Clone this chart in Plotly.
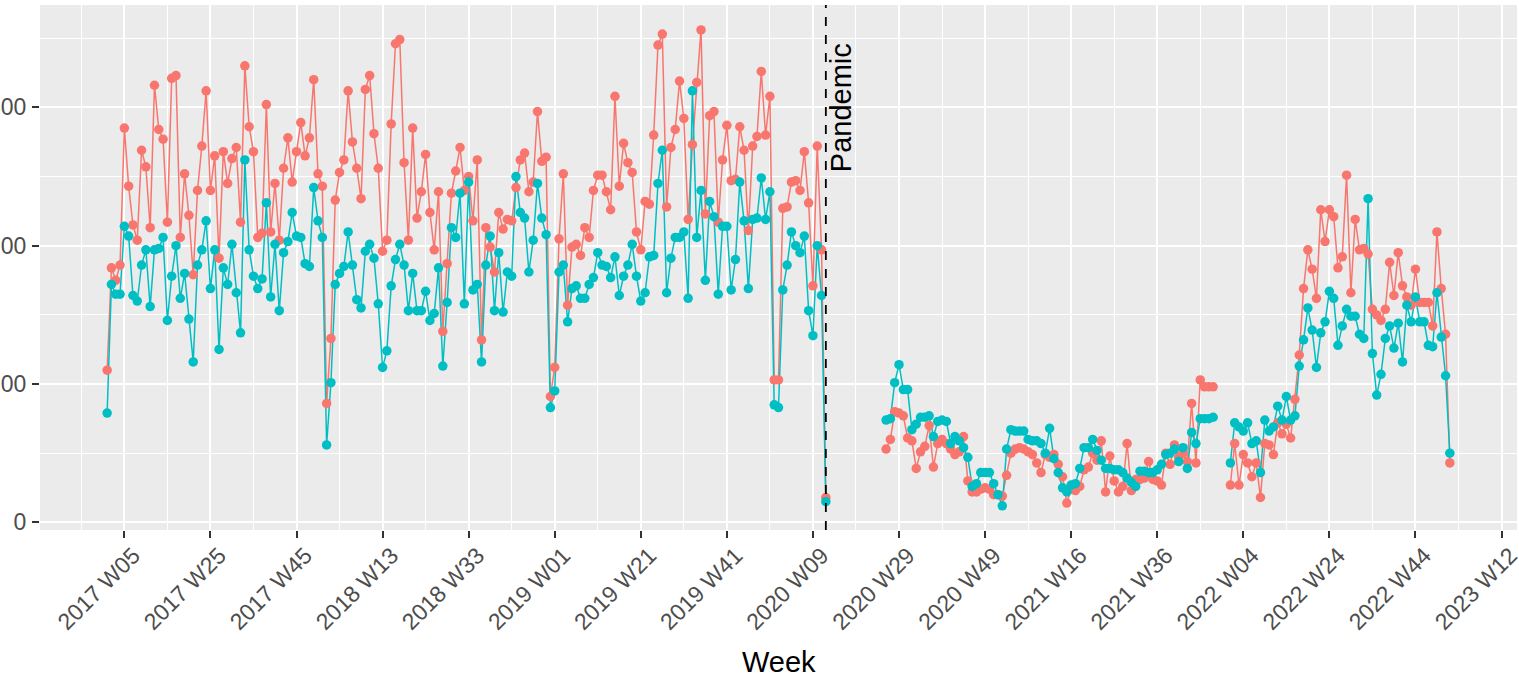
import datetime
import plotly.graph_objects as go

# ---- categories: ISO week labels -------------------------------------------
all_weeks = []
for yr in range(2017, 2024):
    n_w = datetime.date(yr, 12, 28).isocalendar()[1]
    for w in range(1, n_w + 1):
        all_weeks.append(f"{yr} W{w:02d}")
weeks = all_weeks[: all_weeks.index("2022 W52") + 1]

tick_labels = ["2017 W05", "2017 W25", "2017 W45", "2018 W13", "2018 W33",
               "2019 W01", "2019 W21", "2019 W41", "2020 W09", "2020 W29",
               "2020 W49", "2021 W16", "2021 W36", "2022 W04", "2022 W24",
               "2022 W44", "2023 W12"]
pandemic_week = "2020 W12"

N = None
# ---- series values (red series) ---------------------------------------------
red = [
    110, 184, 175, 186, 285, 243, 215, 204, 269, 257, 213, 316, 284, 277, 217, 321, 323, 206, 252, 222,
    179, 240, 272, 312, 240, 265, 191, 268, 245, 263, 271, 217, 330, 286, 268, 206, 209, 302, 210, 245,
    204, 256, 278, 246, 268, 289, 265, 278, 320, 252, 243, 86, 133, 233, 253, 262, 312, 275, 256, 234,
    313, 323, 281, 256, 196, 204, 288, 346, 349, 260, 204, 285, 220, 239, 266, 224, 197, 239, 138, 187,
    238, 254, 271, 240, 250, 218, 262, 132, 213, 199, 181, 224, 212, 219, 218, 242, 262, 267, 239, 246,
    297, 261, 264, 91, 112, 205, 252, 157, 199, 201, 193, 213, 206, 240, 251, 251, 239, 226, 308, 243,
    274, 260, 253, 210, 197, 232, 230, 280, 345, 353, 228, 271, 284, 319, 292, 219, 273, 318, 356, 223,
    294, 297, 217, 262, 287, 247, 248, 286, 269, 211, 272, 279, 326, 280, 308, 103, 103, 227, 228, 246,
    247, 240, 268, 231, 171, 272, 197, 18,
    N, N, N, N, N, N, N, N, N, N, N, N, N,
    53, 60, 80, 79, 77, 61, 59, 39, 51, 55, 70, 40, 57, 60, 57, 53, 49, 51, 62, 30,
    22, 22, 24, 25, 24, 20, 20, 19, 34, 50, 53, 54, 53, 51, 49, 43, 36, 49, 47, 49,
    42, 33, 14, 24, 23, 26, 38, 40, 50, 45, 59, 22, 48, 30, 22, 26, 57, 23, 31, 31,
    32, 44, 31, 30, 27, 50,
    42, 56, 47, 50, 44, 86, 43, 103, 98, 98, 98,
    N, N, N,
    27, 57, 27, 49, 43, 33, 43, 18, 57, 56, 49, 72, 64, 71, 61, 89, 121, 169, 197, 183,
    162, 226, 203, 226, 221, 184, 192, 251, 166, 219, 197, 198, 194, 154, 150, 146, 154, 188, 164, 195,
    171, 163, 157, 183, 159, 159, 159, 142, 210, 169, 136, 43,
]

# ---- series values (teal series) --------------------------------------------
teal = [
    79, 172, 165, 165, 214, 207, 164, 160, 186, 197, 156, 197, 198, 206, 146, 178, 200, 162, 180, 147,
    116, 186, 197, 218, 169, 197, 125, 184, 172, 201, 166, 137, 262, 197, 178, 169, 176, 231, 163, 201,
    153, 195, 203, 224, 207, 206, 187, 185, 242, 218, 206, 56, 101, 172, 180, 185, 210, 186, 161, 155,
    196, 201, 191, 158, 112, 124, 171, 190, 201, 186, 153, 180, 153, 153, 167, 146, 151, 184, 113, 159,
    213, 206, 238, 158, 246, 168, 172, 116, 186, 207, 153, 195, 152, 181, 178, 250, 224, 220, 181, 204,
    245, 220, 208, 83, 95, 181, 186, 145, 169, 171, 162, 162, 172, 177, 195, 186, 185, 177, 192, 164,
    178, 186, 201, 178, 160, 166, 192, 193, 245, 269, 166, 191, 206, 206, 210, 162, 312, 206, 240, 175,
    232, 221, 165, 214, 214, 168, 190, 246, 218, 169, 219, 220, 249, 219, 239, 85, 83, 168, 186, 210,
    200, 195, 207, 153, 135, 200, 164, 15,
    N, N, N, N, N, N, N, N, N, N, N, N, N,
    74, 75, 101, 114, 96, 96, 67, 71, 76, 76, 77, 62, 73, 74, 73, 57, 62, 59, 54, 47,
    26, 28, 36, 36, 36, 28, 20, 12, 53, 67, 66, 66, 66, 60, 59, 59, 57, 50, 68, 46,
    36, 25, 22, 27, 28, 39, 54, 54, 60, 52, 45, 39, 39, 38, 38, 36, 32, 29, 26, 37,
    37, 36, 36, 38, 42, 49,
    50, 53, 44, 54, 39, 65, 57, 75, 75, 75, 76,
    N, N, N,
    43, 72, 69, 66, 72, 57, 59, 36, 74, 66, 69, 84, 74, 91, 74, 77, 113, 132, 155, 139,
    112, 137, 145, 167, 162, 128, 142, 154, 149, 149, 136, 133, 234, 122, 92, 107, 133, 142, 126, 144,
    116, 157, 145, 163, 145, 145, 128, 127, 166, 134, 106, 50,
]

y_ticks = [0, 100, 200, 300]

RED = "#F8766D"
TEAL = "#00BFC4"
FONT = "Liberation Sans, Arial, sans-serif"

x = [all_weeks.index(w) for w in weeks]
tick_pos = [all_weeks.index(t) for t in tick_labels]
minor_pos = [p - 10 for p in tick_pos]
pand_x = all_weeks.index(pandemic_week)

fig = go.Figure()
for vals, col, name in [(red, RED, "red"), (teal, TEAL, "teal")]:
    fig.add_trace(go.Scatter(x=x, y=vals, mode="lines", name=name,
                             line=dict(color=col, width=1.5),
                             hoverinfo="skip", showlegend=False))
for vals, col, name in [(red, RED, "red"), (teal, TEAL, "teal")]:
    fig.add_trace(go.Scatter(x=x, y=vals, mode="markers", name=name,
                             marker=dict(color=col, size=9.5, line=dict(width=0)),
                             showlegend=False))

fig.add_shape(type="line", xref="x", yref="paper", x0=pand_x, x1=pand_x, y0=0, y1=1,
              line=dict(color="black", width=1.8, dash="dash"))
fig.add_annotation(x=pand_x, y=300, xref="x", yref="y", text="Pandemic",
                   textangle=-90, showarrow=False, xanchor="center", yanchor="middle",
                   xshift=16, font=dict(family=FONT, size=29, color="black"))
# x-axis title
fig.add_annotation(x=0.5, y=-0.2514, xref="paper", yref="paper", text="Week",
                   showarrow=False, xanchor="center", yanchor="middle",
                   font=dict(family=FONT, size=29, color="black"))

fig.update_layout(
    width=1519, height=677,
    margin=dict(l=40, r=2, t=5, b=147),
    paper_bgcolor="white", plot_bgcolor="#EBEBEB",
    showlegend=False,
    font=dict(family=FONT),
    xaxis=dict(
        range=[-15.6, 327.6], tickmode="array", tickvals=tick_pos, ticktext=tick_labels,
        tickangle=-45, ticks="outside", ticklen=7, tickwidth=1.6, tickcolor="#333333",
        ticklabelshift=9, ticklabelstandoff=-5, ticklabeloverflow="allow",
        tickfont=dict(family=FONT, size=23, color="#4D4D4D"),
        showgrid=True, gridcolor="white", gridwidth=2, zeroline=False, showline=False,
        minor=dict(tickmode="array", tickvals=minor_pos, showgrid=True,
                   gridcolor="white", gridwidth=1, ticks=""),
        automargin=False,
    ),
    yaxis=dict(
        range=[-5.5, 374], tickmode="array", tickvals=y_ticks,
        ticks="outside", ticklen=7, tickwidth=1.6, tickcolor="#333333",
        ticklabelstandoff=1, ticklabeloverflow="allow",
        tickfont=dict(family=FONT, size=23, color="#4D4D4D"),
        showgrid=True, gridcolor="white", gridwidth=2, zeroline=False, showline=False,
        minor=dict(tickmode="array", tickvals=[50, 150, 250, 350], showgrid=True,
                   gridcolor="white", gridwidth=1, ticks=""),
        automargin=False,
    ),
)

fig.write_html(
    "out.html",
    config={"displayModeBar": False},
    post_script="document.body.style.margin='0';document.body.style.overflow='hidden';",
)
